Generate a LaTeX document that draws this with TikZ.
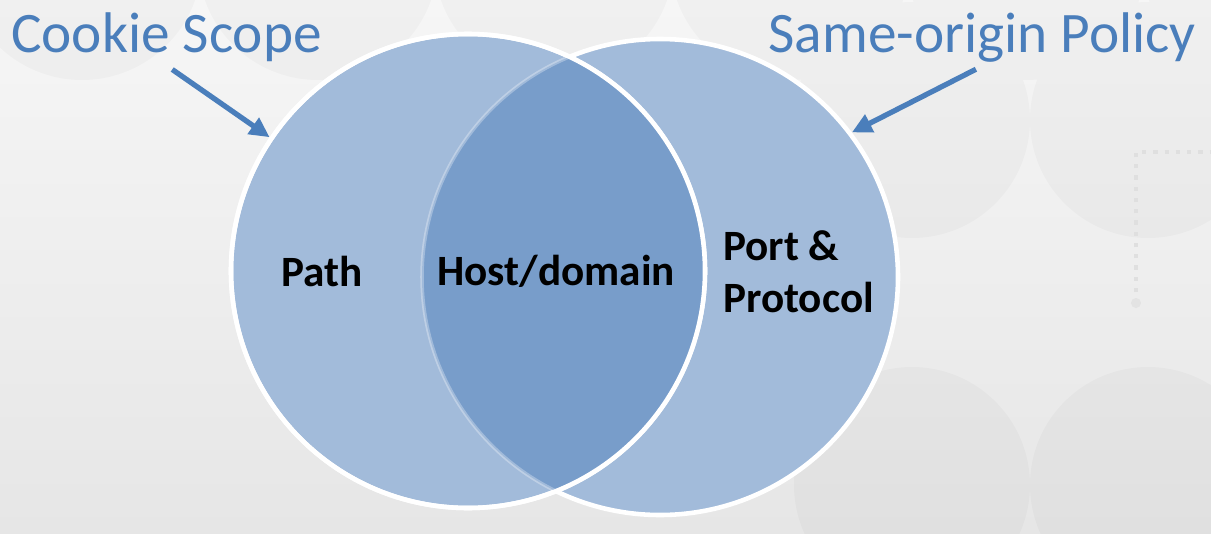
\documentclass[tikz,border=0pt]{standalone}
\usepackage{fontspec}
\setmainfont{Carlito}
\usetikzlibrary{arrows.meta}

\definecolor{vennlight}{HTML}{A2BBDA}
\definecolor{venndark}{HTML}{789DCA}
\definecolor{titleblue}{HTML}{4A7EBB}
\definecolor{bgtop}{HTML}{F6F6F6}
\definecolor{bgbot}{HTML}{E6E6E6}

\begin{document}
\begin{tikzpicture}[
  title/.style={text=titleblue, font=\fontsize{16.3}{19}\selectfont, inner sep=1pt},
  lbl/.style={font=\bfseries\fontsize{12.3}{14.8}\selectfont, align=left, inner sep=1pt},
  venn/.style={circle, draw=white, line width=1.3pt, fill=vennlight, inner sep=0pt},
  arr/.style={-{Triangle[length=2mm, width=1.9mm]}, titleblue, line width=1.5pt},
  bgdeco/.style={black, fill opacity=0.025},
]

% --- slide background ---
\fill[top color=bgtop, bottom color=bgbot] (0,0) rectangle (12.11,5.33);
\useasboundingbox (0,0) rectangle (12.11,5.33);
\begin{scope}
  \clip (0,0) rectangle (12.11,5.33);
  \fill[bgdeco]
    \foreach \x in {0.82, 3.18, 5.54, 7.90, 10.26, 12.62} {(\x,5.73) circle (1.2)}
    \foreach \x in {9.12, 11.48} {(\x,4.13) circle (1.18) (\x,0.48) circle (1.18)};
\end{scope}
\draw[dotted, line width=1.2pt, gray!25] (11.36,2.41) -- (11.36,3.81) -- (12.11,3.81);
\fill[gray!22] (11.36,2.30) circle (0.05);

% --- the two sets ---
\coordinate (cs)  at (4.68,2.62);
\coordinate (csp) at (6.60,2.56);
\node[venn, minimum size=4.76cm] (sop)   at (csp) {};
\node[venn, minimum size=4.74cm] (scope) at (cs)  {};

% overlap, with the hidden edge of the right set showing faintly
\begin{scope}
  \clip (cs) circle (2.37);
  \fill[venndark] (csp) circle (2.38);
  \draw[white, opacity=0.3, line width=1pt] (csp) circle (2.38);
\end{scope}
\draw[white, line width=1.3pt] (cs) circle (2.37);

% --- labels inside ---
\node[lbl] (path) at (3.22,2.62) {Path};
\node[lbl] (host) at (5.56,2.62) {Host/domain};
\node[lbl, anchor=west] (port) at (7.19,2.61) {Port \&\\Protocol};

% --- titles and pointers ---
\node[title, anchor=base west] (cookie) at (0.07,4.81) {Cookie Scope};
\node[title, anchor=base east] (origin) at (12.00,4.81) {Same-origin Policy};

\draw[arr, shorten <=2pt] (cookie.south) -- (scope.146);
\draw[arr, shorten <=2pt] (origin.south) -- (sop.37);

\end{tikzpicture}
\end{document}
